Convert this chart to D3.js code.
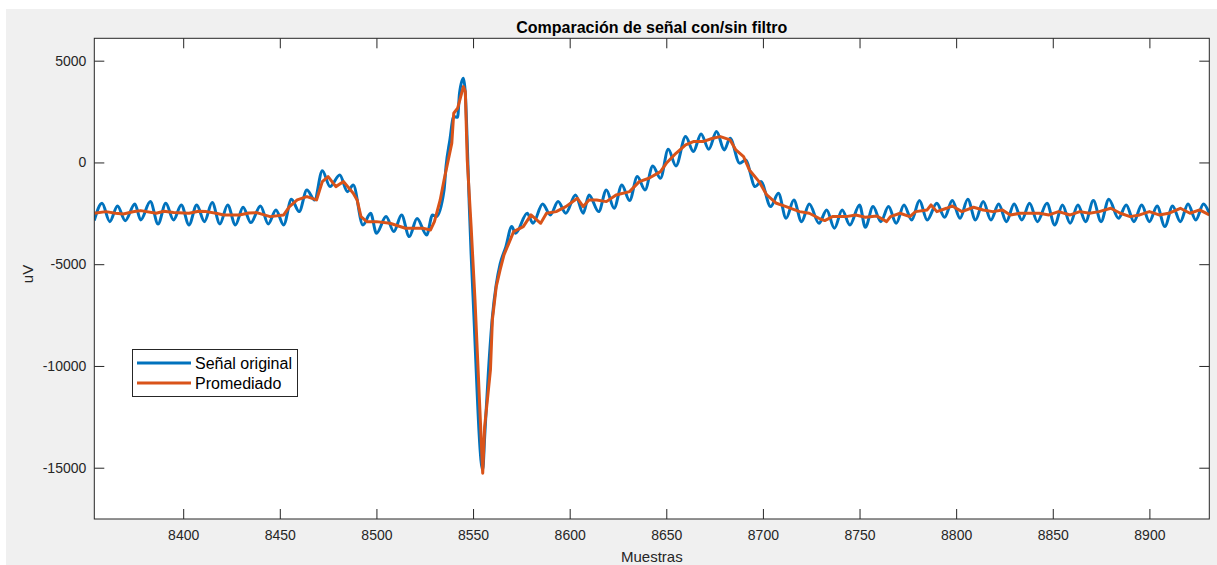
<!DOCTYPE html>
<html>
<head>
<meta charset="utf-8">
<script src="https://cdn.jsdelivr.net/npm/d3@7"></script>
<style>
body { margin: 0; background: #fff; }
text { font-family: "Liberation Sans", Arial, Helvetica, sans-serif; }
.axis text { font-size: 14px; fill: #262626; }
.axis line { stroke: #262626; }
</style>
</head>
<body>
<div id="chart"></div>
<script>
// muestras / valores (puntos clave)
var senalMuestras = [8354,8358,8362,8366,8370,8375,8378,8383,8387,8391,8395,8399,8403,8407,8411,8415,8419,8423,8427,8431,
  8435,8440,8444,8448,8452,8456,8460,8464,8468,8472,8476,8481,8485,8488,8493,8497,8500,8505,8509,8513,
  8517,8521,8526,8529,8531,8535,8536,8538,8540,8542,8543,8545,8546,8547,8548,8549,8550,8555,8556,8558,
  8560,8562,8564,8567,8570,8572,8578,8581,8586,8590,8594,8598,8603,8607,8610,8615,8619,8623,8627,8631,
  8635,8639,8643,8647,8651,8655,8660,8664,8668,8672,8676,8680,8683,8688,8691,8696,8699,8704,8708,8712,
  8716,8720,8724,8729,8733,8737,8741,8745,8750,8753,8757,8761,8765,8769,8773,8777,8781,8785,8790,8794,
  8798,8802,8806,8810,8814,8818,8822,8826,8830,8834,8838,8842,8847,8851,8855,8859,8863,8867,8871,8875,
  8879,8884,8888,8892,8896,8900,8904,8908,8912,8916,8920,8924,8928,8931];
var senalValores = [-2850,-2007,-2908,-2138,-2859,-2040,-2826,-1925,-3022,-2007,-2826,-2089,-3072,-2089,-2908,-1974,-3022,-2089,-3072,-2203,
  -2957,-2138,-3022,-2334,-3072,-1810,-2416,-1352,-1843,-402,-1188,-615,-1434,-1106,-3072,-2498,-3481,-2662,-3399,-2580,
  -3645,-2750,-3563,-2580,-2662,-1351,-205,1106,2252,2220,3399,4136,3399,942,-2000,-4500,-6593,-15100,-13500,-10200,
  -7600,-6000,-5000,-4136,-3153,-3481,-2498,-2989,-2039,-2580,-1924,-2498,-1597,-2498,-1597,-2416,-1351,-2252,-1106,-1875,
  -696,-1351,-172,-778,647,-172,1270,533,1401,647,1515,614,1188,-41,123,-1187,-942,-2170,-1515,-2744,
  -1843,-2908,-2039,-2989,-2334,-3235,-2334,-3071,-2089,-3186,-2170,-2908,-2170,-2989,-2089,-2826,-1876,-2826,-2007,-2695,
  -1876,-2744,-1810,-2826,-1925,-2826,-2039,-2908,-2039,-2826,-2007,-2908,-2007,-3071,-2089,-2989,-2089,-2908,-1876,-2908,
  -1810,-2744,-2089,-2908,-2089,-2908,-2138,-3153,-2138,-2908,-2039,-2826,-2039,-2498];

var promMuestras = [8354,8360,8365,8369,8374,8378,8386,8390,8395,8403,8408,8412,8417,8421,8429,8434,8438,8445,8452,8455,
  8459,8464,8469,8472,8475,8479,8483,8488,8490,8492,8495,8500,8507,8515,8524,8528,8530,8533,8535,8539,
  8540,8542,8545,8546,8547,8549,8551,8555,8556,8559,8560,8562,8564,8566,8571,8576,8580,8585,8588,8593,
  8598,8604,8607,8610,8614,8619,8624,8631,8636,8641,8647,8650,8655,8660,8664,8669,8674,8678,8683,8686,
  8690,8693,8698,8702,8707,8712,8719,8724,8729,8732,8736,8743,8748,8753,8759,8764,8766,8771,8776,8779,
  8785,8787,8790,8795,8798,8803,8809,8814,8819,8824,8828,8833,8838,8843,8848,8853,8859,8864,8869,8874,
  8880,8885,8890,8895,8900,8905,8910,8916,8921,8926,8931];
var promValores = [-2498,-2416,-2500,-2531,-2420,-2367,-2498,-2400,-2465,-2498,-2400,-2416,-2500,-2580,-2580,-2480,-2465,-2662,-2580,-2171,
  -1843,-1679,-1843,-942,-696,-1188,-942,-1515,-1843,-2662,-2908,-2908,-2990,-3235,-3235,-3317,-2907,-1843,-860,942,
  2416,2662,3727,3481,123,-3153,-6756,-15274,-12981,-10196,-7739,-6101,-5282,-4545,-3399,-3153,-2580,-2989,-2498,-2416,
  -2170,-1760,-2170,-1843,-1843,-1925,-1597,-1433,-942,-778,-450,-41,451,860,1024,1024,1188,1270,1106,614,
  287,-368,-942,-1597,-2006,-2170,-2416,-2498,-2744,-2858,-2662,-2662,-2580,-2695,-2629,-2908,-2662,-2498,-2662,-2416,
  -2334,-2089,-2416,-2252,-2138,-2416,-2203,-2334,-2416,-2334,-2580,-2498,-2498,-2498,-2580,-2416,-2580,-2416,-2498,-2416,
  -2252,-2498,-2662,-2580,-2416,-2580,-2498,-2252,-2498,-2334,-2580];

var xTicks = [8400, 8450, 8500, 8550, 8600, 8650, 8700, 8750, 8800, 8850, 8900];
var yTicks = [5000, 0, -5000, -10000, -15000];
var series = ["Señal original", "Promediado"];
var colors = ["#0072bd", "#d95319"];

var W = 1217, H = 565;
var margin = {top: 38.3, left: 94.3},
    width = 1115, height = 480.7;

var senal = senalMuestras.map(function(m, i) { return {x: m, y: senalValores[i]}; });
var prom = promMuestras.map(function(m, i) { return {x: m, y: promValores[i]}; });

var xScale = d3.scaleLinear().domain([8354, 8931]).range([0, width]);
var yScale = d3.scaleLinear().domain([-17520, 6100]).range([height, 0]);

// matlab escribe el signo menos con guion normal
var fmt = function(d) { return String(d); };

var svg = d3.select("#chart").append("svg")
    .attr("width", W)
    .attr("height", H);

// fondo de la figura (gris matlab)
svg.append("rect")
    .attr("x", 6).attr("y", 9)
    .attr("width", W - 6).attr("height", H - 9)
    .attr("fill", "#f0f0f0");

var g = svg.append("g")
    .attr("transform", "translate(" + margin.left + "," + margin.top + ")");

g.append("rect")
    .attr("width", width).attr("height", height)
    .attr("fill", "#fff");

g.append("defs").append("clipPath").attr("id", "clip")
  .append("rect").attr("width", width).attr("height", height);

// lineas
var lineaSenal = d3.line()
    .x(function(d) { return xScale(d.x); })
    .y(function(d) { return yScale(d.y); })
    .curve(d3.curveMonotoneX);

var lineaProm = d3.line()
    .x(function(d) { return xScale(d.x); })
    .y(function(d) { return yScale(d.y); });

var plot = g.append("g").attr("clip-path", "url(#clip)");

plot.append("path")
    .datum(senal)
    .attr("fill", "none")
    .attr("stroke", colors[0])
    .attr("stroke-width", 3)
    .attr("stroke-linejoin", "round")
    .attr("d", lineaSenal);

plot.append("path")
    .datum(prom)
    .attr("fill", "none")
    .attr("stroke", colors[1])
    .attr("stroke-width", 3)
    .attr("stroke-linejoin", "round")
    .attr("d", lineaProm);

// ejes (ticks hacia dentro, como matlab)
g.append("g")
    .attr("class", "axis")
    .attr("transform", "translate(0," + height + ")")
    .call(d3.axisBottom(xScale).tickValues(xTicks).tickSize(-10).tickSizeOuter(0).tickPadding(11)
      .tickFormat(fmt))
    .call(function(a) { a.select(".domain").remove(); });

g.append("g")
    .attr("class", "axis")
    .call(d3.axisTop(xScale).tickValues(xTicks).tickSize(-10).tickSizeOuter(0).tickFormat(""))
    .call(function(a) { a.select(".domain").remove(); });

g.append("g")
    .attr("class", "axis")
    .call(d3.axisLeft(yScale).tickValues(yTicks).tickSize(-10).tickSizeOuter(0).tickPadding(8)
      .tickFormat(fmt))
    .call(function(a) { a.select(".domain").remove(); });

g.append("g")
    .attr("class", "axis")
    .attr("transform", "translate(" + width + ",0)")
    .call(d3.axisRight(yScale).tickValues(yTicks).tickSize(-10).tickSizeOuter(0).tickFormat(""))
    .call(function(a) { a.select(".domain").remove(); });

g.append("rect")
    .attr("width", width).attr("height", height)
    .attr("fill", "none")
    .attr("stroke", "#262626")
    .attr("stroke-width", 1);

// textos
svg.append("text")
    .attr("x", margin.left + width / 2).attr("y", 33)
    .attr("text-anchor", "middle")
    .style("font-size", "16px").style("font-weight", "bold")
    .attr("fill", "#000")
    .text("Comparación de señal con/sin filtro");

svg.append("text")
    .attr("x", margin.left + width / 2).attr("y", 562)
    .attr("text-anchor", "middle")
    .style("font-size", "15px")
    .attr("fill", "#262626")
    .text("Muestras");

svg.append("text")
    .attr("transform", "translate(33,274) rotate(-90)")
    .attr("text-anchor", "middle")
    .style("font-size", "15px")
    .attr("fill", "#262626")
    .text("uV");

// leyenda
var leg = svg.append("g").attr("transform", "translate(132,349)");
leg.append("rect")
    .attr("x", 0.5).attr("y", 0.5)
    .attr("width", 165).attr("height", 47)
    .attr("fill", "#fff")
    .attr("stroke", "#262626");

series.forEach(function(s, i) {
  var yy = 14 + i * 20;
  leg.append("line")
      .attr("x1", 5).attr("x2", 59)
      .attr("y1", yy).attr("y2", yy)
      .attr("stroke", colors[i])
      .attr("stroke-width", 3);
  leg.append("text")
      .attr("x", 63).attr("y", yy + 5.5)
      .style("font-size", "16px")
      .attr("fill", "#000")
      .text(s);
});
</script>
</body>
</html>
